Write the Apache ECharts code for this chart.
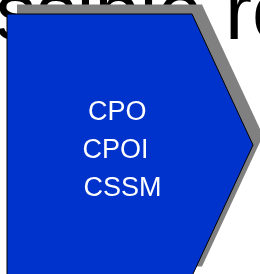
<!DOCTYPE html>
<html>
<head>
<meta charset="utf-8">
<script src="https://cdn.jsdelivr.net/npm/echarts@6/dist/echarts.min.js"></script>
<style>
  html, body { margin: 0; padding: 0; background: #fff; }
  #main { width: 260px; height: 274px; }
</style>
</head>
<body>
<div id="main"></div>
<script>
// texts shown on the slide
const headline = "ssible ro";
const boxLines = ["CPO", "CPOI", "CSSM"];
const lineLeft = [88, 82.5, 83.5];

var chart = echarts.init(document.getElementById("main"));

// chevron outline (pentagon pointing right)
const chevron = [[7, 14], [192, 14], [253, 145], [192, 276], [7, 276]];
const shadowOffset = [10, -9.5];

const elements = [];
// big headline, partly hidden behind the chevron
elements.push({
    type: "text",
    x: -4.6,
    y: 17,
    z: 1,
    style: {
        text: headline,
        fill: "#000",
        font: "81px 'Liberation Sans', Arial, sans-serif",
        align: "left",
        verticalAlign: "middle"
    }
});
// shadow
elements.push({
    type: "polygon",
    z: 2,
    shape: { points: chevron.map(p => [p[0] + shadowOffset[0], p[1] + shadowOffset[1]]) },
    style: { fill: "#808080" }
});
// chevron
elements.push({
    type: "polygon",
    z: 3,
    shape: { points: chevron },
    style: { fill: "#0033CC", stroke: "#000", lineWidth: 1 }
});
// box lines
boxLines.forEach(function (t, i) {
    elements.push({
        type: "text",
        x: lineLeft[i],
        y: 112.5 + i * 37.8,
        z: 4,
        style: {
            text: t,
            fill: "#fff",
            font: "27px 'Liberation Sans', Arial, sans-serif",
            align: "left",
            verticalAlign: "middle"
        }
    });
});

chart.setOption({
    animation: false,
    graphic: { elements: elements }
});
window.addEventListener("resize", function () {
    chart.resize();
});
</script>
</body>
</html>
